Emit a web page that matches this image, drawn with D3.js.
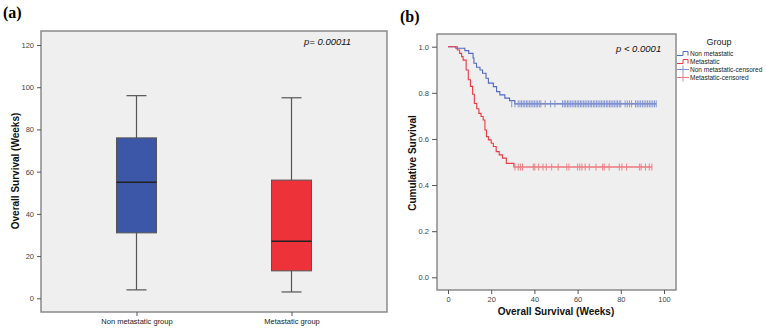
<!doctype html>
<html>
<head>
<meta charset="utf-8">
<script src="https://cdn.jsdelivr.net/npm/d3@7"></script>
<style>
  body { margin: 0; background: #fff; }
  text { font-family: "Liberation Sans", Arial, sans-serif; }
</style>
</head>
<body>
<svg id="chart" width="766" height="330"></svg>
<script>
// panel (a): box plot
var groups = ['Non metastatic group', 'Metastatic group'];
var boxStats = [
  { min: 4, q1: 31, median: 55, q3: 76, max: 96 },
  { min: 3, q1: 13, median: 27, q3: 56, max: 95 }
];
var boxColors = ['#3d57a8', '#ed3339'];
var boxTicks = [0, 20, 40, 60, 80, 100, 120];

// panel (b): Kaplan-Meier curves, [week, survival] at each drop
var kmNonMet = [
  [0, 1], [3.6, 0.993], [7.8, 0.983], [9.6, 0.971], [11.6, 0.951], [12, 0.928],
  [13.2, 0.911], [14.8, 0.899], [16, 0.885], [17.6, 0.863], [18.7, 0.842],
  [21, 0.827], [22.5, 0.805], [24, 0.791], [26.3, 0.777], [28.5, 0.766], [30.9, 0.752]
];
var kmMet = [
  [0, 1], [4.3, 0.986], [5.4, 0.971], [6.3, 0.957], [7, 0.942], [8.4, 0.899],
  [9.4, 0.857], [10.4, 0.828], [11.4, 0.794], [12.2, 0.754], [13.3, 0.731],
  [14.3, 0.711], [15.3, 0.697], [16.3, 0.682], [17.1, 0.639], [17.8, 0.61],
  [18.7, 0.596], [20, 0.581], [21, 0.567], [22.3, 0.545], [23.7, 0.531],
  [25.2, 0.517], [27, 0.494], [30.5, 0.478]
];
var censNonMet = [
  29.5, 31, 32.5, 33.3, 34, 34.8, 35.5, 36.3, 37, 37.8, 38.5, 39.3, 40, 40.8, 41.5, 42.3, 43,
  45, 47.5, 49.5, 53, 53.8, 54.5, 55.3, 56, 56.8, 57.5, 58.3, 59, 59.8, 60.5, 61.3,
  62, 62.8, 63.5, 64.3, 65, 65.8, 66.5, 67.3, 68, 68.8, 69.5, 70.3, 71, 71.8, 72.5,
  73.3, 74, 74.8, 75.5, 76.3, 77, 77.8, 78.5, 79.3, 80,
  82, 83, 84, 85, 86.8, 87.6, 88.4, 89.2, 90, 90.8, 91.6, 92.4, 93.2, 94, 94.8, 95.6, 96.4
];
var censMet = [
  31, 32.5, 33.5, 34.5, 39.5, 40.2, 42, 44, 45.5, 48, 51, 55, 56, 60, 61, 62, 63.5,
  65.4, 68.5, 71.6, 72.3, 74.6, 79.3, 80.5, 82.7, 88.6, 89.4, 91.4, 93.2, 94.4
];
var kmTicksX = [0, 20, 40, 60, 80, 100];
var kmTicksY = [0, 0.2, 0.4, 0.6, 0.8, 1.0];
var legendItems = ['Non metastatic', 'Metastatic', 'Non metastatic-censored', 'Metastatic-censored'];
var lineColors = ['#5369c0', '#ec3a44'];
var censColors = ['#8495d4', '#f07f86'];

var svg = d3.select('#chart');
var bg = '#efefef', frame = '#8a8a8a';

// ---------- panel (a) ----------
var a = { left: 41, right: 387, top: 31, bottom: 312 };
svg.append('rect').attr('x', a.left).attr('y', a.top)
  .attr('width', a.right - a.left).attr('height', a.bottom - a.top)
  .attr('fill', bg).attr('stroke', frame).attr('stroke-width', 1.5);

var yA = d3.scaleLinear().domain([0, 120]).range([298.3, 45]);
var xA = d3.scalePoint().domain(groups).range([a.left, a.right]).padding(0.616);

svg.append('g').attr('transform', 'translate(' + a.left + ',0)')
  .call(d3.axisLeft(yA).tickValues(boxTicks).tickSize(4).tickSizeOuter(0))
  .call(function (g) {
    g.select('.domain').remove();
    g.selectAll('line').attr('stroke', '#555');
    g.selectAll('text').attr('font-size', 7.5).attr('fill', '#444')
      .attr('font-family', '"Liberation Sans", Arial, sans-serif');
  });

svg.append('g').attr('transform', 'translate(0,' + a.bottom + ')')
  .call(d3.axisBottom(xA).tickSize(4).tickSizeOuter(0).tickPadding(3))
  .call(function (g) {
    g.select('.domain').remove();
    g.selectAll('line').attr('stroke', '#555');
    g.selectAll('text').attr('font-size', 7.5).attr('fill', '#222')
      .attr('font-family', '"Liberation Sans", Arial, sans-serif');
  });

var boxW = 40, capW = 20;
var boxes = svg.append('g').selectAll('g').data(boxStats).enter().append('g');
boxes.append('line')
  .attr('x1', function (d, i) { return xA(groups[i]); })
  .attr('x2', function (d, i) { return xA(groups[i]); })
  .attr('y1', function (d) { return yA(d.max); })
  .attr('y2', function (d) { return yA(d.min); })
  .attr('stroke', '#555').attr('stroke-width', 1.2);
boxes.selectAll('.cap').data(function (d, i) {
  return [{ v: d.max, i: i }, { v: d.min, i: i }];
}).enter().append('line')
  .attr('x1', function (d) { return xA(groups[d.i]) - capW / 2; })
  .attr('x2', function (d) { return xA(groups[d.i]) + capW / 2; })
  .attr('y1', function (d) { return yA(d.v); })
  .attr('y2', function (d) { return yA(d.v); })
  .attr('stroke', '#555').attr('stroke-width', 1.2);
boxes.append('rect')
  .attr('x', function (d, i) { return xA(groups[i]) - boxW / 2; })
  .attr('y', function (d) { return yA(d.q3); })
  .attr('width', boxW)
  .attr('height', function (d) { return yA(d.q1) - yA(d.q3); })
  .attr('fill', function (d, i) { return boxColors[i]; })
  .attr('stroke', '#555').attr('stroke-width', 1);
boxes.append('line')
  .attr('x1', function (d, i) { return xA(groups[i]) - boxW / 2; })
  .attr('x2', function (d, i) { return xA(groups[i]) + boxW / 2; })
  .attr('y1', function (d) { return yA(d.median); })
  .attr('y2', function (d) { return yA(d.median); })
  .attr('stroke', '#222').attr('stroke-width', 1.5);

svg.append('text').attr('x', 304).attr('y', 45).attr('font-size', 9.5)
  .attr('font-style', 'italic').attr('fill', '#111').text('p= 0.00011');

svg.append('text').attr('transform', 'translate(19,171) rotate(-90)')
  .attr('text-anchor', 'middle').attr('font-size', 10).attr('font-weight', 'bold')
  .attr('fill', '#111').text('Overall Survival (Weeks)');

svg.append('text').attr('x', 3).attr('y', 18).attr('font-size', 16).attr('font-weight', 'bold')
  .style('font-family', '"Liberation Serif", "Times New Roman", serif').text('(a)');

// ---------- panel (b) ----------
var b = { left: 437, right: 676, top: 34, bottom: 290 };
svg.append('rect').attr('x', b.left).attr('y', b.top)
  .attr('width', b.right - b.left).attr('height', b.bottom - b.top)
  .attr('fill', bg).attr('stroke', frame).attr('stroke-width', 1.5);

var xB = d3.scaleLinear().domain([0, 100]).range([448, 664]);
var yB = d3.scaleLinear().domain([0, 1]).range([277.3, 46.7]);

svg.append('g').attr('transform', 'translate(' + b.left + ',0)')
  .call(d3.axisLeft(yB).tickValues(kmTicksY).tickFormat(d3.format('.1f')).tickSize(5).tickSizeOuter(0))
  .call(function (g) {
    g.select('.domain').remove();
    g.selectAll('line').attr('stroke', '#555');
    g.selectAll('text').attr('font-size', 7.5).attr('fill', '#444')
      .attr('font-family', '"Liberation Sans", Arial, sans-serif');
  });
svg.append('g').attr('transform', 'translate(0,' + b.bottom + ')')
  .call(d3.axisBottom(xB).tickValues(kmTicksX).tickSize(4).tickSizeOuter(0))
  .call(function (g) {
    g.select('.domain').remove();
    g.selectAll('line').attr('stroke', '#555');
    g.selectAll('text').attr('font-size', 7.5).attr('fill', '#444')
      .attr('font-family', '"Liberation Sans", Arial, sans-serif');
  });

var stepLine = d3.line().curve(d3.curveStepAfter)
  .x(function (d) { return xB(d[0]); })
  .y(function (d) { return yB(d[1]); });

[[kmNonMet, censNonMet], [kmMet, censMet]].forEach(function (pair, i) {
  var km = pair[0], cens = pair[1];
  var last = km[km.length - 1][1];
  var maxT = d3.max(cens);
  var pts = km.concat([[maxT, last]]);
  svg.append('path').attr('d', stepLine(pts)).attr('fill', 'none')
    .attr('stroke', lineColors[i]).attr('stroke-width', 1.1);
  svg.append('g').selectAll('line').data(cens).enter().append('line')
    .attr('x1', function (d) { return xB(d); })
    .attr('x2', function (d) { return xB(d); })
    .attr('y1', yB(last) - 3.5).attr('y2', yB(last) + 3.5)
    .attr('stroke', censColors[i]).attr('stroke-width', 1);
});

svg.append('text').attr('x', 616).attr('y', 52).attr('font-size', 9.5)
  .attr('font-style', 'italic').attr('fill', '#111').text('p < 0.0001');

svg.append('text').attr('transform', 'translate(416,163) rotate(-90)')
  .attr('text-anchor', 'middle').attr('font-size', 10).attr('font-weight', 'bold')
  .attr('fill', '#111').text('Cumulative Survival');
svg.append('text').attr('x', 556).attr('y', 315)
  .attr('text-anchor', 'middle').attr('font-size', 10).attr('font-weight', 'bold')
  .attr('fill', '#111').text('Overall Survival (Weeks)');

svg.append('text').attr('x', 400).attr('y', 22).attr('font-size', 16).attr('font-weight', 'bold')
  .style('font-family', '"Liberation Serif", "Times New Roman", serif').text('(b)');

// legend
var lg = svg.append('g');
lg.append('text').attr('x', 719).attr('y', 45).attr('text-anchor', 'middle')
  .attr('font-size', 9).attr('fill', '#222').text('Group');
var legY = d3.scalePoint().domain(legendItems).range([53.5, 77.5]);
legendItems.forEach(function (name, i) {
  var y = legY(name);
  var col = i < 2 ? lineColors[i] : censColors[i - 2];
  if (i < 2) {
    lg.append('path')
      .attr('d', 'M677,' + (y + 2) + 'H683V' + (y - 2) + 'H688V' + (y + 2))
      .attr('fill', 'none').attr('stroke', col).attr('stroke-width', 1);
  } else {
    lg.append('path')
      .attr('d', 'M677,' + y + 'H689M683,' + (y - 4) + 'V' + (y + 4))
      .attr('fill', 'none').attr('stroke', col).attr('stroke-width', 1);
  }
  lg.append('text').attr('x', 690).attr('y', y + 2.5).attr('font-size', 6.5)
    .attr('fill', '#222').text(name);
});
</script>
</body>
</html>
